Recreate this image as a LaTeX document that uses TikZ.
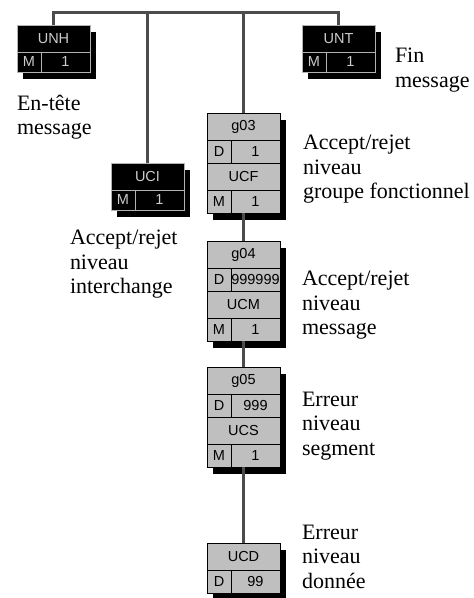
\documentclass[tikz,border=0pt]{standalone}
\usepackage{fontspec}
\setmainfont{Liberation Serif}
\newfontfamily\boxfont{Liberation Sans}
\usetikzlibrary{positioning,shadows}

\begin{document}
\begin{tikzpicture}[
	x=1pt, y=-1pt,
	every node/.style={inner sep=0pt, outer sep=0pt},
	cell/.style={draw, line width=0.8pt, font=\boxfont\fontsize{14.5}{16}\selectfont,
		general shadow={fill=black, shadow xshift=6pt, shadow yshift=-7pt}},
	nm/.style={cell, minimum width=73pt, minimum height=27pt},
	ky/.style={cell, minimum width=24pt, minimum height=23pt},
	vl/.style={cell, minimum width=49pt, minimum height=23pt},
	blk/.style={fill=black, draw=gray!60, text=gray!40},
	gry/.style={fill=black!25, draw=black, text=black},
	bus/.style={draw=black!70, line width=3pt},
	lbl/.style={anchor=north west, align=left, font=\fontsize{22}{24.5}\selectfont}
	]
	\useasboundingbox (0,0) rectangle (474,598);
	% en-tete et fin
	\node[nm, blk, anchor=north west] (unh) at (17,25) {UNH};
	\node[ky, blk, minimum height=20pt, below right=0pt and 0pt of unh.south west] (unhk) {M};
	\node[vl, blk, minimum height=20pt, right=0pt of unhk] (unhv) {1};
	\node[nm, blk, anchor=north west] (unt) at (302,25) {UNT};
	\node[ky, blk, minimum height=20pt, below right=0pt and 0pt of unt.south west] (untk) {M};
	\node[vl, blk, minimum height=20pt, right=0pt of untk] (untv) {1};
	% interchange
	\node[nm, blk, anchor=north west] (uci) at (111,163) {UCI};
	\node[ky, blk, minimum height=20pt, below right=0pt and 0pt of uci.south west] (ucik) {M};
	\node[vl, blk, minimum height=20pt, right=0pt of ucik] (uciv) {1};
	% groupe fonctionnel
	\node[nm, gry, anchor=north west] (g03) at (207,113) {g03};
	\node[ky, gry, below right=0pt and 0pt of g03.south west] (g03k) {D};
	\node[vl, gry, right=0pt of g03k] (g03v) {1};
	\node[nm, gry, below right=0pt and 0pt of g03k.south west] (ucf) {UCF};
	\node[ky, gry, below right=0pt and 0pt of ucf.south west] (ucfk) {M};
	\node[vl, gry, right=0pt of ucfk] (ucfv) {1};
	% message
	\node[nm, gry, below right=28pt and 0pt of ucfk.south west] (g04) {g04};
	\node[ky, gry, below right=0pt and 0pt of g04.south west] (g04k) {D};
	\node[vl, gry, right=0pt of g04k] (g04v) {999999};
	\node[nm, gry, below right=0pt and 0pt of g04k.south west] (ucm) {UCM};
	\node[ky, gry, below right=0pt and 0pt of ucm.south west] (ucmk) {M};
	\node[vl, gry, right=0pt of ucmk] (ucmv) {1};
	% segment
	\node[nm, gry, below right=26pt and 0pt of ucmk.south west] (g05) {g05};
	\node[ky, gry, below right=0pt and 0pt of g05.south west] (g05k) {D};
	\node[vl, gry, right=0pt of g05k] (g05v) {999};
	\node[nm, gry, below right=0pt and 0pt of g05k.south west] (ucs) {UCS};
	\node[ky, gry, below right=0pt and 0pt of ucs.south west] (ucsk) {M};
	\node[vl, gry, right=0pt of ucsk] (ucsv) {1};
	% donnee
	\node[nm, gry, below right=76pt and 0pt of ucsk.south west] (ucd) {UCD};
	\node[ky, gry, below right=0pt and 0pt of ucd.south west] (ucdk) {D};
	\node[vl, gry, right=0pt of ucdk] (ucdv) {99};
	% liaisons
	\coordinate (bus) at (0,12);
	\draw[bus] (unh.north) |- (bus -| unt.north) -- (unt.north);
	\draw[bus] (uci.north) -- (uci.north |- bus);
	\draw[bus] (g03.north) -- (g03.north |- bus);
	\draw[bus] (ucfv.south -| g04.north) -- (g04.north);
	\draw[bus] (ucmv.south -| g05.north) -- (g05.north);
	\draw[bus] (ucsv.south -| ucd.north) -- (ucd.north);
	% textes
	\node[lbl] (unhl) at (17,95) {En-tête\\message};
	\node[lbl] (untl) at (395,48) {Fin\\message};
	\node[lbl] (ucil) at (70,230) {Accept/rejet\\niveau\\interchange};
	\node[lbl] (g03l) at (303,135) {Accept/rejet\\niveau\\groupe fonctionnel};
	\node[lbl] (g04l) at (302,271) {Accept/rejet\\niveau\\message};
	\node[lbl] (g05l) at (302,392) {Erreur\\niveau\\segment};
	\node[lbl] (ucdl) at (302,525) {Erreur\\niveau\\donnée};
\end{tikzpicture}
\end{document}
